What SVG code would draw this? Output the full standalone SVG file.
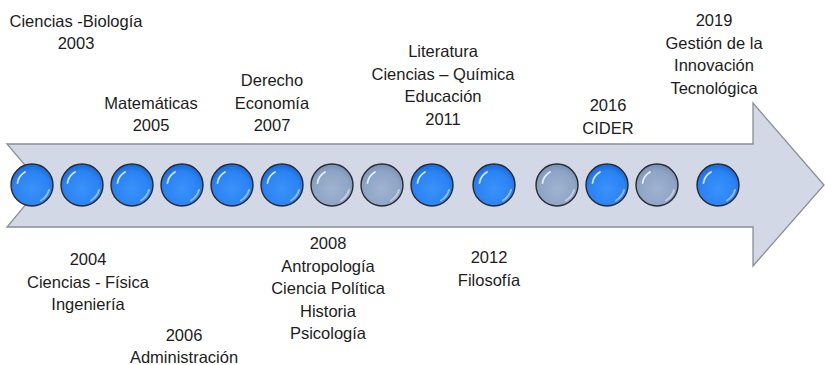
<svg xmlns="http://www.w3.org/2000/svg" width="825" height="365" viewBox="0 0 825 365">
<defs>
<radialGradient id="blueG" cx="0.5" cy="0.6" r="0.6">
<stop offset="0" stop-color="#3b92fa"/>
<stop offset="0.7" stop-color="#2a83f4"/>
<stop offset="1" stop-color="#1766d6"/>
</radialGradient>
<radialGradient id="grayG" cx="0.5" cy="0.6" r="0.6">
<stop offset="0" stop-color="#9fb3d1"/>
<stop offset="0.7" stop-color="#8fa5c6"/>
<stop offset="1" stop-color="#7a90b3"/>
</radialGradient>
<g id="glare">
<path d="M -14.5,-2 A 15,15 0 0 1 -7,-13" fill="none" stroke="#ffffff" stroke-width="1.8" stroke-linecap="round" opacity="0.8"/>
<path d="M 17,5 A 18,18 0 0 1 9,15.5" fill="none" stroke="#ffffff" stroke-width="2" stroke-linecap="round" opacity="0.45"/>
</g>
</defs>
<style>
.arrow{fill:#d2d8e6;stroke:#8a8e96;stroke-width:1.3}
.blue{fill:url(#blueG);stroke:#2a2a2e;stroke-width:1.4}
.gray{fill:url(#grayG);stroke:#2a2a2e;stroke-width:1.4}
text{font-family:"Liberation Sans",Arial,sans-serif;font-size:16.5px;fill:#1c1c1c;text-anchor:middle}
</style>
<g id="timeline-arrow">
<path class="arrow" d="M7,144 L753,144 L753,103 L824,185 L753,266 L753,227 L7,227 L42,185 Z"/>
</g>
<g id="dots">
<g id="dot1" transform="translate(32,185)"><circle class="blue" r="21"/><use href="#glare"/></g>
<g id="dot2" transform="translate(82,185)"><circle class="blue" r="21"/><use href="#glare"/></g>
<g id="dot3" transform="translate(132,185)"><circle class="blue" r="21"/><use href="#glare"/></g>
<g id="dot4" transform="translate(182,185)"><circle class="blue" r="21"/><use href="#glare"/></g>
<g id="dot5" transform="translate(232,185)"><circle class="blue" r="21"/><use href="#glare"/></g>
<g id="dot6" transform="translate(282,185)"><circle class="blue" r="21"/><use href="#glare"/></g>
<g id="dot7" transform="translate(332,185)"><circle class="gray" r="21"/><use href="#glare"/></g>
<g id="dot8" transform="translate(382,185)"><circle class="gray" r="21"/><use href="#glare"/></g>
<g id="dot9" transform="translate(432,185)"><circle class="blue" r="21"/><use href="#glare"/></g>
<g id="dot10" transform="translate(494,185)"><circle class="blue" r="21"/><use href="#glare"/></g>
<g id="dot11" transform="translate(557,185)"><circle class="gray" r="21"/><use href="#glare"/></g>
<g id="dot12" transform="translate(607,185)"><circle class="blue" r="21"/><use href="#glare"/></g>
<g id="dot13" transform="translate(657,185)"><circle class="gray" r="21"/><use href="#glare"/></g>
<g id="dot14" transform="translate(718,185)"><circle class="blue" r="21"/><use href="#glare"/></g>
</g>
<g id="label-2003"><text x="76" y="27">Ciencias -Biología</text><text x="76" y="49">2003</text></g>
<g id="label-2004"><text x="88" y="265">2004</text><text x="88" y="287.5">Ciencias - Física</text><text x="88" y="310">Ingeniería</text></g>
<g id="label-2005"><text x="151" y="108.5">Matemáticas</text><text x="151" y="131">2005</text></g>
<g id="label-2006"><text x="184" y="341">2006</text><text x="184" y="363">Administración</text></g>
<g id="label-2007"><text x="272" y="86">Derecho</text><text x="272" y="108.5">Economía</text><text x="272" y="131">2007</text></g>
<g id="label-2008"><text x="328" y="249">2008</text><text x="328" y="271.5">Antropología</text><text x="328" y="294">Ciencia Política</text><text x="328" y="316.5">Historia</text><text x="328" y="339">Psicología</text></g>
<g id="label-2011"><text x="443" y="57">Literatura</text><text x="443" y="79.5">Ciencias – Química</text><text x="443" y="102">Educación</text><text x="443" y="124.5">2011</text></g>
<g id="label-2012"><text x="489" y="263">2012</text><text x="489" y="285.5">Filosofía</text></g>
<g id="label-2016"><text x="608" y="111">2016</text><text x="608" y="134">CIDER</text></g>
<g id="label-2019"><text x="714" y="26">2019</text><text x="714" y="48.5">Gestión de la</text><text x="714" y="71">Innovación</text><text x="714" y="93.5">Tecnológica</text></g>
</svg>
